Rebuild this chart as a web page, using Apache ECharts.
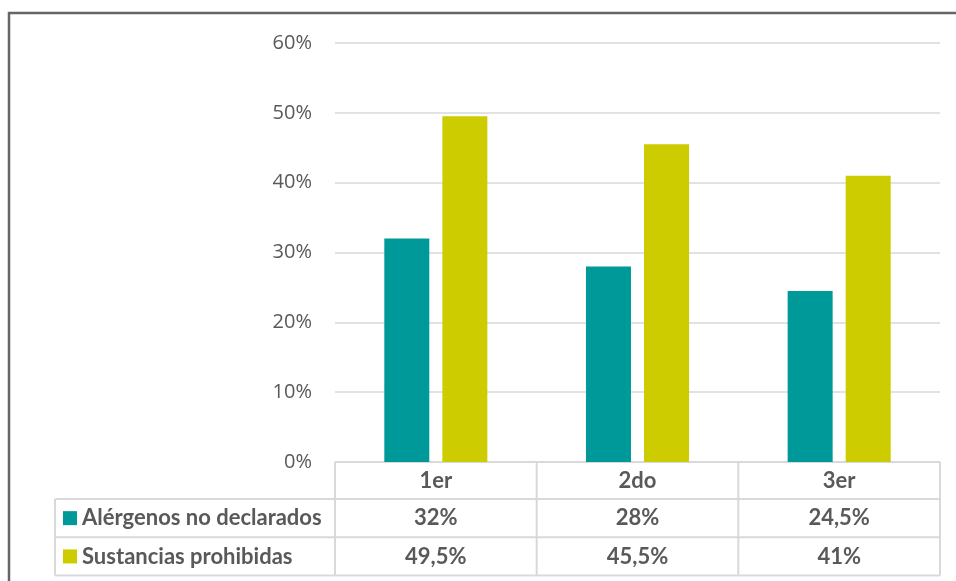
<!DOCTYPE html>
<html><head><meta charset="utf-8">
<script src="https://cdn.jsdelivr.net/npm/echarts@6/dist/echarts.min.js"></script>
<style>html,body{margin:0;padding:0;background:#fff}#c{width:956px;height:581px}</style>
</head><body><div id="c"></div>
<script>
var categories = ['1er', '2do', '3er'];
var seriesNames = ['Alérgenos no declarados', 'Sustancias prohibidas'];
var alergenos = [32, 28, 24.5];
var sustancias = [49.5, 45.5, 41];
var alergenosLabels = ['32%', '28%', '24,5%'];
var sustanciasLabels = ['49,5%', '45,5%', '41%'];
var yTicks = [0, 10, 20, 30, 40, 50, 60];

var colors = ['#009999', '#cccc00'];
var gridLeft = 335, gridRight = 16, gridTop = 43, gridBottom = 119;
var chart = echarts.init(document.getElementById('c'));
var option = {
  animation: false,
  grid: {left: gridLeft, right: gridRight, top: gridTop, bottom: gridBottom},
  xAxis: {type: 'category', data: categories, axisLine: {show: false}, axisTick: {show: false}, axisLabel: {show: false}},
  yAxis: {type: 'value', min: yTicks[0], max: yTicks[yTicks.length - 1], interval: 10,
    axisLabel: {formatter: '{value}%', fontFamily: 'Open Sans', fontSize: 20, color: '#595959', margin: 23},
    splitLine: {lineStyle: {color: '#d9d9d9', width: 1.5}}, axisLine: {show: false}, axisTick: {show: false}},
  series: [
    {name: seriesNames[0], type: 'bar', data: alergenos, barWidth: 45, barGap: '29%', itemStyle: {color: colors[0]}},
    {name: seriesNames[1], type: 'bar', data: sustancias, barWidth: 45, itemStyle: {color: colors[1]}}
  ]
};
chart.setOption(option);

var w = 956, h = 581;
var plotRight = w - gridRight;
var yTop = chart.convertToPixel({yAxisIndex: 0}, 0);
var band = (w - gridLeft - gridRight) / categories.length;
var rowH = 38.3;
var rows = [yTop, yTop + 37, yTop + 37 + rowH, yTop + 37 + 2 * rowH];
var labelLeft = 55;
var lineStyle = {stroke: '#d9d9d9', lineWidth: 2};
var g = [];
// frame
g.push({type: 'polyline', shape: {points: [[9, h], [9, 13], [w, 13]]}, style: {stroke: '#666666', lineWidth: 2.5, fill: null}, z: 100});
// horizontal lines
g.push({type: 'line', shape: {x1: gridLeft, y1: rows[0], x2: plotRight, y2: rows[0]}, style: lineStyle});
for (var i = 1; i < rows.length; i++) {
  g.push({type: 'line', shape: {x1: labelLeft, y1: rows[i], x2: plotRight, y2: rows[i]}, style: lineStyle});
}
// vertical lines
for (var j = 0; j <= categories.length; j++) {
  var x = gridLeft + j * band;
  g.push({type: 'line', shape: {x1: x, y1: rows[0], x2: x, y2: rows[3]}, style: lineStyle});
}
g.push({type: 'line', shape: {x1: labelLeft, y1: rows[1], x2: labelLeft, y2: rows[3]}, style: lineStyle});
var font = 'bold 22px Lato';
var txtColor = '#595959';
var rowData = [alergenosLabels, sustanciasLabels];
categories.forEach(function (c, k) {
  var cx = chart.convertToPixel({xAxisIndex: 0}, c);
  g.push({type: 'text', x: cx, y: (rows[0] + rows[1]) / 2, style: {text: c, font: font, fill: txtColor, align: 'center', verticalAlign: 'middle'}});
  for (var r = 0; r < 2; r++) {
    g.push({type: 'text', x: cx, y: (rows[r + 1] + rows[r + 2]) / 2, style: {text: rowData[r][k], font: font, fill: txtColor, align: 'center', verticalAlign: 'middle'}});
  }
});
for (var r = 0; r < 2; r++) {
  var cy = (rows[r + 1] + rows[r + 2]) / 2;
  g.push({type: 'rect', shape: {x: 63, y: cy - 7, width: 14, height: 14}, style: {fill: colors[r]}});
  g.push({type: 'text', x: 82, y: cy, style: {text: seriesNames[r], font: font, fill: txtColor, align: 'left', verticalAlign: 'middle'}});
}
chart.setOption({graphic: g});
</script></body></html>
